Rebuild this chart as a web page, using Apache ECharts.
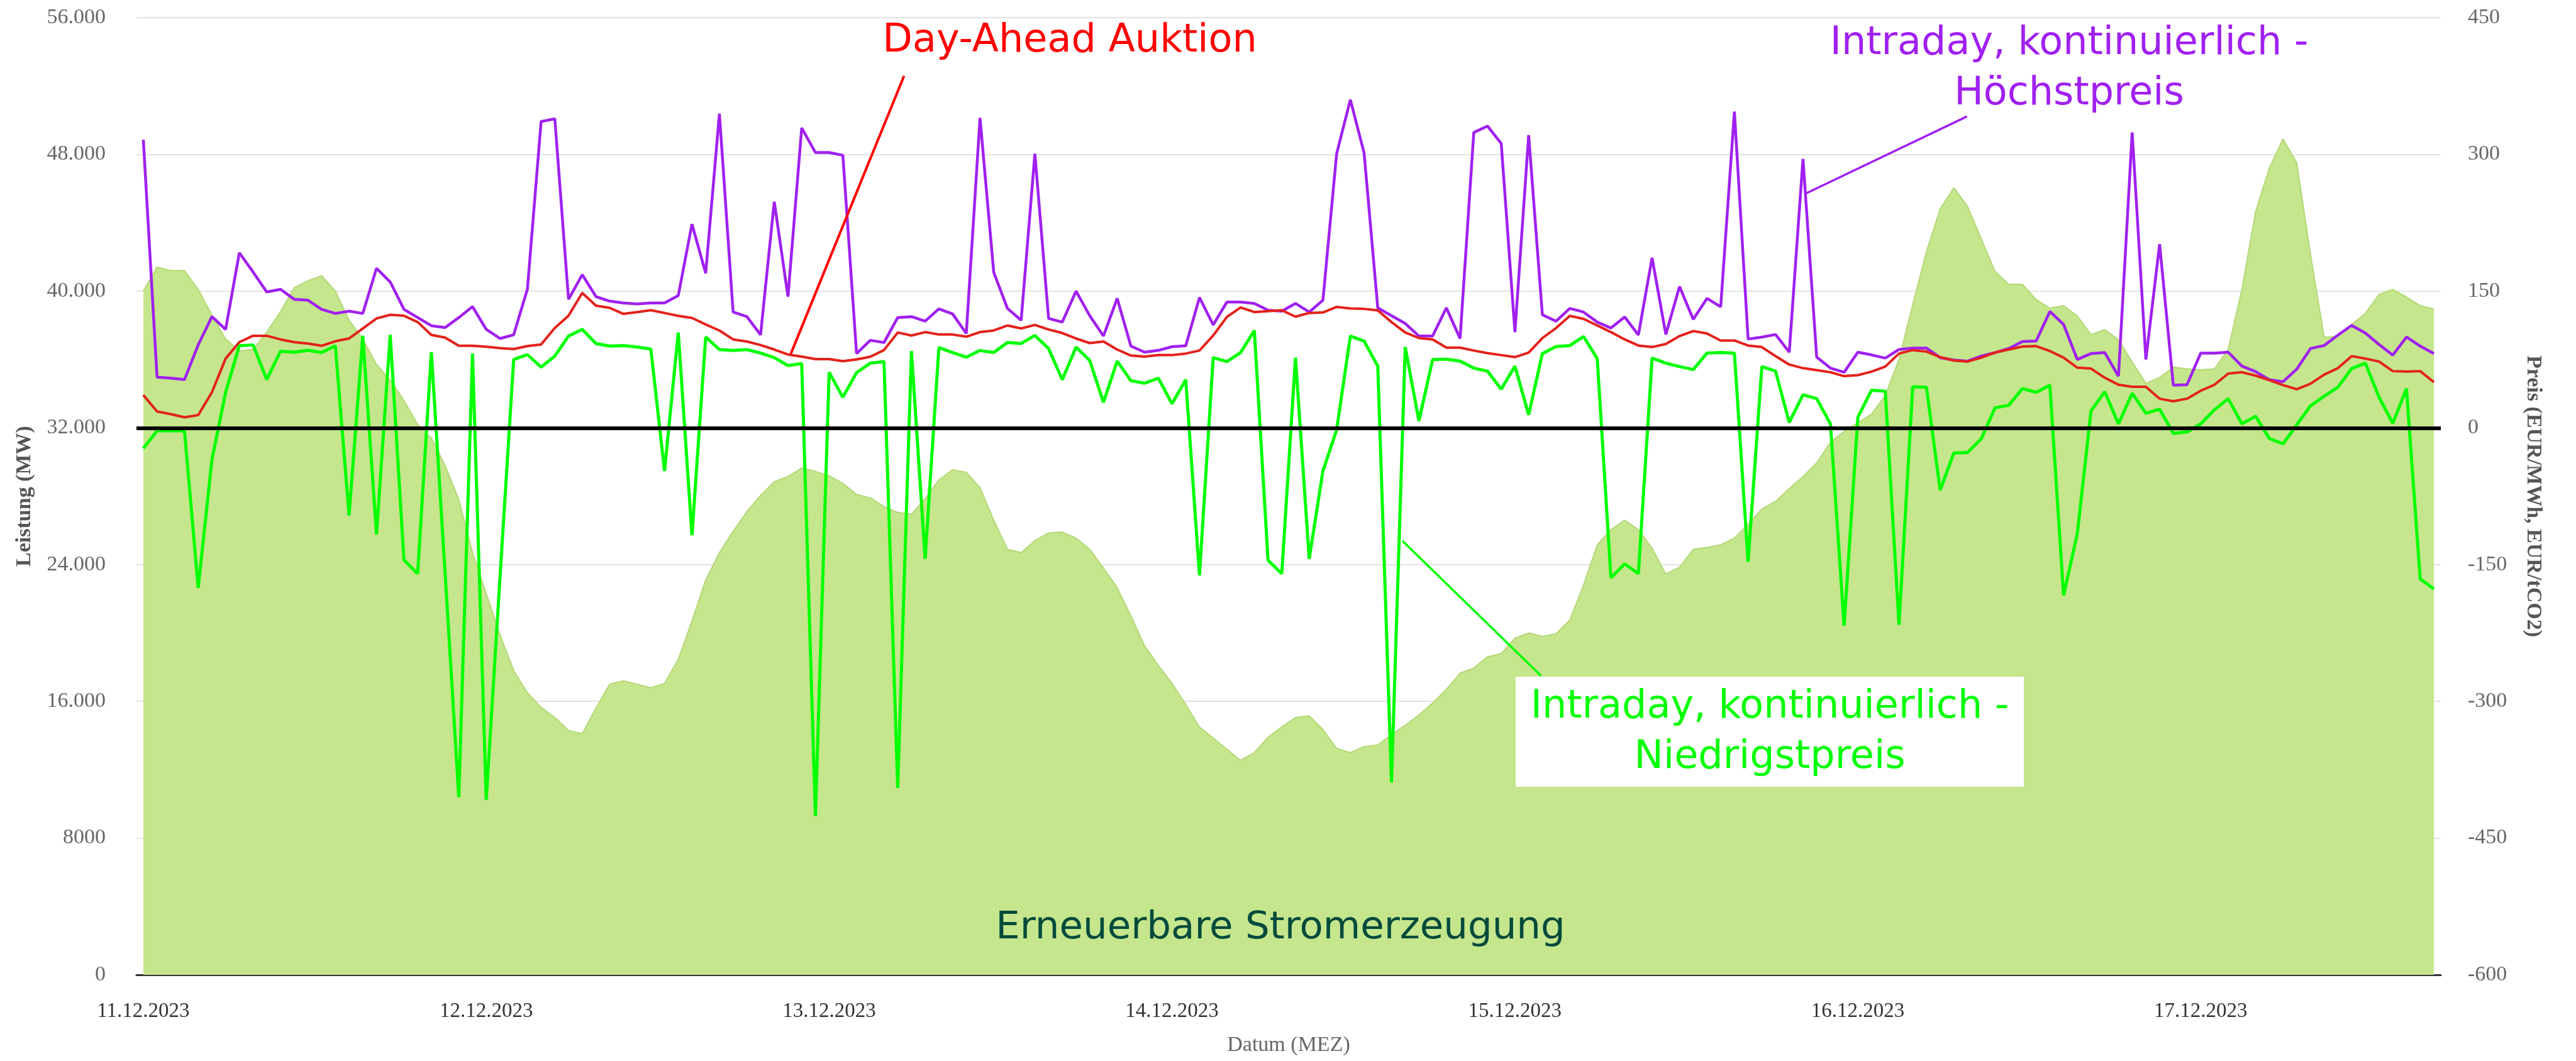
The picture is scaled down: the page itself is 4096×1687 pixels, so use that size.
<!DOCTYPE html>
<html>
<head>
<meta charset="utf-8">
<script src="https://cdn.jsdelivr.net/npm/echarts@6/dist/echarts.min.js"></script>
<style>
  html, body { margin: 0; padding: 0; background: #fff; }
  #chart { width: 4096px; height: 1687px; }
</style>
</head>
<body>
<div id="chart"></div>
<script>
// date ticks, one every 25 points
const dayLabels = ['11.12.2023', '12.12.2023', '13.12.2023', '14.12.2023', '15.12.2023', '16.12.2023', '17.12.2023']
const pointsPerLabel = 25

// Erneuerbare Stromerzeugung (MW), left axis
const renewables = [
  40000, 41400, 41200, 41200, 40100, 38600, 37200, 36500, 36600, 37600, 38800, 40200, 40600, 40900, 40000, 38300, 37200, 35700, 34800, 33600, 32200, 31400, 29800, 27800, 24700,
  22300, 19900, 17800, 16500, 15650, 15050, 14300, 14100, 15600, 17000, 17200, 17000, 16800, 17050, 18450, 20700, 23100, 24700, 25950, 27100, 28050, 28850, 29150, 29650, 29450,
  29200, 28750, 28100, 27900, 27400, 27050, 26950, 27850, 28950, 29550, 29400, 28500, 26600, 24900, 24700, 25400, 25850, 25900, 25550, 24900, 23800, 22650, 21000, 19250, 18100,
  17050, 15800, 14500, 13850, 13200, 12550, 13000, 13900, 14500, 15050, 15150, 14350, 13250, 13000, 13350, 13450, 14050, 14600, 15200, 15900, 16700, 17650, 17950, 18600, 18800,
  19700, 20000, 19800, 19950, 20750, 22800, 25150, 26050, 26600, 26050, 24950, 23450, 23850, 24900, 25000, 25150, 25550, 26350, 27250, 27700, 28450, 29150, 29950, 31150, 31800,
  32300, 32800, 33900, 36000, 39200, 42300, 44800, 46050, 44950, 43050, 41150, 40400, 40400, 39500, 39000, 39150, 38550, 37450, 37750, 37150, 35850, 34600, 34950, 35550, 35450,
  35400, 35450, 36600, 40100, 44650, 47200, 48900, 47500, 42150, 37300, 37350, 38050, 38700, 39800, 40100, 39650, 39150, 38950
]

// prices (EUR/MWh), right axis
const dayAhead = [
  36, 18, 15, 11.6, 14, 39, 76, 94, 101, 101, 97, 94, 92.5, 90, 95, 98, 109, 120, 124, 123, 116, 102, 99, 90, 90,
  89, 87.5, 86.4, 89.7, 91.4, 109.5, 123, 148, 134, 131.6, 125, 127, 129, 126, 122.8, 120.6, 113.4, 106.8, 97, 94.7, 90.8, 85.9, 80.4, 78.2, 75.4,
  75.4, 73.2, 75, 78, 85.3, 104.6, 101.3, 105, 102.4, 102.4, 100, 105, 106.8, 112.3, 109, 112.9, 107.9, 104, 98, 93, 94.7, 85.9, 79.3, 78.2, 79.8,
  79.8, 81.5, 84.8, 101.3, 121.7, 132, 127, 128, 129, 122, 126, 126.6, 132.7, 131, 130.5, 128.8, 116, 104.6, 98.5, 97, 88, 88, 84.8, 82, 79.8,
  77.6, 82.6, 98.5, 109.5, 122.8, 119.5, 112.3, 105, 97, 90.3, 88.6, 92, 100.7, 106.2, 103.5, 95.8, 95.8, 90.3, 88.6, 78.7, 69.4, 65.5, 63.3, 61, 56.7,
  57.8, 61.7, 67.2, 81.5, 85.3, 83.7, 77.6, 73.8, 72.7, 77, 82.6, 85.9, 89.2, 89.7, 84.2, 77, 66, 65, 55, 47.3, 45, 45, 32, 29.2, 32,
  40.7, 47.3, 59.5, 61, 57.3, 52.3, 46.8, 42.4, 48.4, 58.4, 65.5, 78.7, 76, 72.7, 62.2, 61.7, 62.2, 50
]
const intradayMax = [
  316, 55.6, 54.5, 53, 91, 122, 108, 192, 171, 149, 152, 141, 140, 130, 125.5, 128, 125.5, 175, 160, 130, 121, 112, 110, 121, 133,
  108, 98, 102, 152, 336, 339, 141, 168, 144, 139, 137, 136, 137, 137, 145, 223.5, 169.6, 344.6, 127, 122, 102, 248, 144, 329, 302,
  302, 299, 81.5, 96, 93.6, 121, 122, 117, 130.5, 125, 103.5, 340, 170.6, 131, 118, 300.6, 120, 116, 150, 123, 100.7, 142, 89.7, 83, 85,
  89, 90, 143, 113, 138, 138, 136.5, 129, 128, 136.5, 127, 140, 300.6, 360, 301.7, 131.6, 123, 114.5, 100.7, 100.7, 131.6, 98, 324, 331, 312,
  105, 321, 124, 117, 131, 127, 116, 109.5, 121.7, 101.8, 186.6, 102.4, 155, 119, 142, 132.7, 347, 97.4, 99.6, 102.4, 83, 295, 77.6, 65.5, 61,
  83, 80, 76.5, 86, 87.5, 87.5, 77, 74.3, 73.2, 78.7, 82.6, 87, 94.7, 95.2, 127.7, 113.4, 75, 81.5, 82.6, 56.7, 324, 75, 201.5, 46.8, 47.3,
  82, 82, 83, 67.7, 61.7, 52.8, 50.6, 64.4, 87, 90.3, 101.8, 112.3, 104, 91.4, 79.8, 99.6, 89.7, 81.5
]
const intradayMin = [
  -22.6, -3.3, -3.3, -3.3, -175.6, -35, 39, 90, 91, 53, 84, 83, 85, 82.6, 90, -96, 101, -117, 102, -145, -160, 83, -159, -405, 81.5,
  -408, -165, 75, 80.4, 66.6, 78.7, 100.7, 108, 92.5, 89.7, 90.3, 88.6, 86.4, -47.3, 104.6, -117.8, 99.6, 85.9, 84.8, 85.9, 82, 77, 68.3, 70.5, -426,
  61, 33.6, 60.6, 71, 72.7, -395, 84.2, -143.7, 88, 82.6, 77.6, 84.8, 82.6, 93.6, 92.5, 101.3, 87, 52.8, 88.6, 73.8, 28, 73.2, 51.7, 49, 54.5,
  26.4, 52.8, -161.8, 77, 72.7, 82.6, 106.8, -145.3, -160, 77, -143.7, -47.3, -2.2, 100.7, 95.2, 67.7, -389, 88.6, 7.7, 74.9, 75.4, 73.2, 65.5, 62.2, 42.5,
  67.7, 14.3, 81.5, 89.2, 90.3, 100.2, 76, -164.6, -149.2, -160, 76.5, 71, 67.2, 63.9, 82, 82.6, 82, -147, 67.2, 62.2, 6, 36.3, 32, 4.4, -217,
  11.6, 41.3, 40.2, -216, 45, 44.6, -68.3, -27.5, -27, -12.1, 22, 24.8, 43, 39, 46.8, -183.9, -116, 18.7, 39.6, 4.4, 38, 16, 20.4, -6, -4.5,
  4.4, 19.8, 32, 4.4, 12.7, -11.6, -17.6, 3.3, 24.2, 34.7, 44.6, 65, 71, 33.6, 5, 43, -165.7, -176.7
]

// annotation pointer lines: [point index, price]
const dayAheadPointer = [[47.2, 81], [55.46, 386]]
const hoechstPointer = [[121.2, 257], [132.96, 341.6]]
const niedrigstPointer = [[91.8, -124], [101.9, -272]]

const categories = renewables.map((_, i) => String(i))

const serif = 'Liberation Serif'
const sans = 'DejaVu Sans'

function formatMW(v) {
  if (v < 10000) return String(v)
  return String(v).replace(/\B(?=(\d{3})+(?!\d))/g, '.')
}

function pointer(data, color, width) {
  return {
    type: 'line',
    xAxisIndex: 1,
    yAxisIndex: 1,
    data,
    symbol: 'none',
    silent: true,
    z: 6,
    lineStyle: { color, width },
  }
}

const chart = echarts.init(document.getElementById('chart'))

chart.setOption({
  animation: false,
  grid: { left: 217, right: 215, top: 28, bottom: 137, containLabel: false },
  xAxis: [
    {
      type: 'category',
      data: categories,
      boundaryGap: true,
      name: 'Datum (MEZ)',
      nameLocation: 'middle',
      nameGap: 95,
      nameTextStyle: { fontFamily: serif, fontSize: 34, color: '#666' },
      axisLine: { lineStyle: { color: '#333', width: 3 } },
      axisTick: { show: false },
      axisLabel: {
        interval: pointsPerLabel - 1,
        formatter: (value, index) => dayLabels[index / pointsPerLabel] || '',
        fontFamily: serif,
        fontSize: 33,
        color: '#333',
        margin: 42,
      },
      splitLine: { show: false },
    },
    { type: 'value', min: -0.5, max: renewables.length - 0.5, show: false },
  ],
  yAxis: [
    {
      type: 'value',
      min: 0,
      max: 56000,
      interval: 8000,
      name: 'Leistung (MW)',
      nameLocation: 'middle',
      nameRotate: 90,
      nameGap: 161,
      nameTextStyle: { fontFamily: serif, fontSize: 34, fontWeight: 'bold', color: '#555' },
      axisLine: { show: false },
      axisTick: { show: false },
      axisLabel: { formatter: formatMW, fontFamily: serif, fontSize: 34, color: '#666', margin: 49 },
      splitLine: { lineStyle: { color: '#e3e3e3', width: 2 } },
    },
    {
      type: 'value',
      min: -600,
      max: 450,
      interval: 150,
      name: 'Preis (EUR/MWh, EUR/tCO2)',
      nameLocation: 'middle',
      nameRotate: -90,
      nameGap: 130,
      nameTextStyle: { fontFamily: serif, fontSize: 34, fontWeight: 'bold', color: '#555' },
      axisLine: { show: false },
      axisTick: { show: false },
      axisLabel: { fontFamily: serif, fontSize: 34, color: '#666', margin: 43 },
      splitLine: { show: false },
    },
  ],
  series: [
    {
      name: 'Erneuerbare Stromerzeugung',
      type: 'line',
      yAxisIndex: 0,
      data: renewables,
      symbol: 'none',
      z: 1,
      lineStyle: { color: '#b4d877', width: 2 },
      areaStyle: { color: '#c5e68c', opacity: 1 },
    },
    {
      name: 'Intraday, kontinuierlich - Höchstpreis',
      type: 'line',
      yAxisIndex: 1,
      data: intradayMax,
      symbol: 'none',
      lineStyle: { color: '#a020f0', width: 4.5 },
    },
    {
      name: 'Day-Ahead Auktion',
      type: 'line',
      yAxisIndex: 1,
      data: dayAhead,
      symbol: 'none',
      lineStyle: { color: '#e3221b', width: 4 },
    },
    {
      name: 'Intraday, kontinuierlich - Niedrigstpreis',
      type: 'line',
      yAxisIndex: 1,
      data: intradayMin,
      symbol: 'none',
      lineStyle: { color: '#00ff00', width: 5 },
      markLine: {
        silent: true,
        symbol: 'none',
        label: { show: false },
        lineStyle: { color: '#000', width: 6, type: 'solid' },
        data: [{ yAxis: 0 }],
      },
    },
    pointer(dayAheadPointer, '#ff0000', 4),
    pointer(hoechstPointer, '#a020f0', 3.5),
    pointer(niedrigstPointer, '#00ff00', 3.5),
  ],
  graphic: [
    {
      type: 'text', x: 1701, y: 66, z: 100,
      style: { text: 'Day-Ahead Auktion', fill: '#ff0000', font: `62px "${sans}"`, align: 'center', verticalAlign: 'middle' },
    },
    {
      type: 'text', x: 3290, y: 110, z: 100,
      style: {
        text: 'Intraday, kontinuierlich -\nHöchstpreis', fill: '#a020f0', font: `62px "${sans}"`,
        lineHeight: 80, align: 'center', verticalAlign: 'middle',
      },
    },
    {
      type: 'rect', z: 99,
      shape: { x: 2410, y: 1076, width: 808, height: 175 },
      style: { fill: '#ffffff' },
    },
    {
      type: 'text', x: 2814, y: 1165, z: 100,
      style: {
        text: 'Intraday, kontinuierlich -\nNiedrigstpreis', fill: '#00ff00', font: `62px "${sans}"`,
        lineHeight: 80, align: 'center', verticalAlign: 'middle',
      },
    },
    {
      type: 'text', x: 2036, y: 1476, z: 100,
      style: { text: 'Erneuerbare Stromerzeugung', fill: '#004a3c', font: `61px "${sans}"`, align: 'center', verticalAlign: 'middle' },
    },
  ],
})

window.addEventListener('resize', () => chart.resize())
</script>
</body>
</html>
